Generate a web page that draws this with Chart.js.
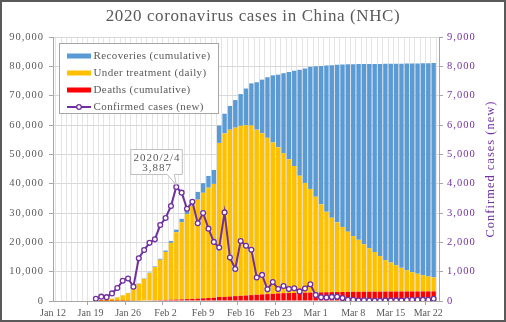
<!DOCTYPE html>
<html>
<head>
<meta charset="utf-8">
<script src="https://cdn.jsdelivr.net/npm/chart.js@4/dist/chart.umd.min.js"></script>
<style>
  html, body { margin: 0; padding: 0; background: #fff; }
  canvas { display: block; }
</style>
</head>
<body>
<canvas id="casesChart" width="506" height="322"></canvas>
<script>
// Daily figures, Jan 20 .. Mar 23 (the axis runs Jan 12 .. Mar 24)
const firstDay = new Date(2020, 0, 12);
const dayCount = 73;
const leadDays = 8;

const recoveries = [
    25, 28, 28, 34, 38, 49, 51, 60, 103, 124, 171, 243,
    328, 475, 632, 892, 1153, 1540, 2050, 2649, 3281, 3996, 4740, 5911, 6723, 8096, 9419,
    10844, 12552, 14376, 16155, 18264, 20659, 22888, 24734, 27323, 29745, 32495, 36117, 39002, 41625,
    44462, 47204, 49856, 52045, 53726, 55404, 57065, 58600, 59897, 61475, 62793, 64111, 65541,
    66911, 67749, 68679, 69601, 70420, 71150, 71740, 72244, 72703, 73159
];
const underTreatment = [
    260, 403, 526, 771, 1208, 1870, 2613, 4349, 5739, 7417, 9308, 11289,
    13748, 16369, 19381, 22942, 26302, 28985, 31774, 33738, 35982, 37626, 38800, 52526, 55748, 56873, 57416,
    57934, 58016, 57805, 56303, 54965, 53284, 51606, 49824, 47672, 45604, 43258, 39919, 37414, 35329,
    32652, 30004, 27433, 25352, 23784, 22177, 20533, 19016, 17721, 16145, 14831, 13526, 12094,
    10734, 9898, 8976, 8056, 7263, 6569, 6013, 5549, 5120, 4735
];
const deaths = [
    6, 9, 17, 25, 41, 56, 80, 106, 132, 170, 213, 259,
    304, 361, 425, 490, 563, 636, 722, 811, 908, 1016, 1113, 1367, 1380, 1523, 1665,
    1770, 1868, 2004, 2118, 2236, 2345, 2442, 2592, 2663, 2715, 2744, 2788, 2835, 2870,
    2912, 2943, 2981, 3012, 3042, 3070, 3097, 3119, 3136, 3158, 3169, 3176, 3189,
    3199, 3213, 3226, 3237, 3245, 3248, 3255, 3261, 3270, 3277
];
const newCases = [
    77, 149, 131, 259, 444, 688, 769, 490, 1459, 1737, 1982, 2102,
    2590, 2829, 3235, 3887, 3694, 3143, 3385, 2652, 3000, 2467, 2015, 1820, 3020, 1480, 1090,
    2048, 1886, 1749, 800, 889, 397, 648, 409, 508, 406, 433, 327, 427, 573,
    202, 125, 119, 139, 143, 99, 44, 40, 19, 24, 15, 8, 11,
    20, 16, 21, 13, 34, 39, 41, 46, 39, 78
];

const leftTicks = [0, 10000, 20000, 30000, 40000, 50000, 60000, 70000, 80000, 90000];
const rightTicks = [0, 1000, 2000, 3000, 4000, 5000, 6000, 7000, 8000, 9000];
const callout = { index: leadDays + 15, date: '2020/2/4' };

const MONTHS = ['Jan', 'Feb', 'Mar', 'Apr'];
const labels = [];
for (let i = 0; i < dayCount; i++) {
    const d = new Date(firstDay.getTime() + i * 86400000);
    labels.push(MONTHS[d.getMonth()] + ' ' + d.getDate());
}

function pad(values) {
    const out = new Array(leadDays).fill(null).concat(values);
    while (out.length < dayCount) out.push(null);
    return out;
}

const SERIF = '"Liberation Serif", "Times New Roman", serif';
const GREY_TEXT = '#595959';
const PURPLE = '#7030A0';
const COLORS = { rec: '#5B9BD5', treat: '#FFC000', dead: '#FF0000' };

function fmt(v) { return Number(v).toLocaleString('en-US'); }

// title, legend box, callout, right axis title, frame
const decorations = {
    id: 'decorations',
    beforeDraw(chart) {
        chart.ctx.letterSpacing = '1px';
    },
    afterDatasetsDraw(chart) {
        const ctx = chart.ctx;

        // callout on the Feb 4 peak
        const pt = chart.getDatasetMeta(3).data[callout.index];
        if (pt) {
            const x = pt.x, y = pt.y;
            const left = x - 45.5, right = x + 6, top = y - 37.5, bottom = y - 12.5;
            ctx.save();
            ctx.beginPath();
            ctx.moveTo(left, top);
            ctx.lineTo(right, top);
            ctx.lineTo(right, bottom);
            ctx.lineTo(x - 2, bottom);
            ctx.lineTo(x, y - 2);
            ctx.lineTo(x - 9, bottom);
            ctx.lineTo(left, bottom);
            ctx.closePath();
            ctx.fillStyle = '#fff';
            ctx.fill();
            ctx.strokeStyle = '#bfbfbf';
            ctx.lineWidth = 1;
            ctx.stroke();
            ctx.fillStyle = GREY_TEXT;
            ctx.font = '11px ' + SERIF;
            ctx.letterSpacing = '1px';
            ctx.textAlign = 'center';
            ctx.textBaseline = 'middle';
            const cx = (left + right) / 2 + 0.5;
            ctx.fillText(callout.date, cx, top + 8.5);
            ctx.fillText(fmt(newCases[callout.index - leadDays]), cx, top + 19);
            ctx.restore();
        }

        // legend box
        const items = [
            { text: 'Recoveries (cumulative)', color: COLORS.rec },
            { text: 'Under treatment (daily)', color: COLORS.treat },
            { text: 'Deaths (cumulative)', color: COLORS.dead },
            { text: 'Confirmed cases (new)', color: PURPLE, line: true }
        ];
        ctx.save();
        ctx.fillStyle = '#fff';
        ctx.fillRect(59.5, 43.5, 159, 70);
        ctx.strokeStyle = '#a6a6a6';
        ctx.lineWidth = 1;
        ctx.strokeRect(59.5, 43.5, 159, 70);
        ctx.font = '11px ' + SERIF;
        ctx.letterSpacing = '0.4px';
        ctx.textBaseline = 'middle';
        items.forEach((it, i) => {
            const ry = 56 + i * 17;
            if (it.line) {
                ctx.strokeStyle = it.color;
                ctx.lineWidth = 2;
                ctx.beginPath();
                ctx.moveTo(67, ry);
                ctx.lineTo(91, ry);
                ctx.stroke();
                ctx.beginPath();
                ctx.arc(79, ry, 2.3, 0, Math.PI * 2);
                ctx.fillStyle = '#fff';
                ctx.fill();
                ctx.lineWidth = 1.3;
                ctx.stroke();
            } else {
                ctx.fillStyle = it.color;
                ctx.fillRect(67, ry - 2.5, 24, 5);
            }
            ctx.fillStyle = GREY_TEXT;
            ctx.fillText(it.text, 93.5, ry + 0.5);
        });
        ctx.restore();

        // x tick labels are drawn after this point without spacing
        ctx.letterSpacing = '0px';
    },
    afterDraw(chart) {
        const ctx = chart.ctx;
        ctx.save();
        ctx.fillStyle = GREY_TEXT;
        ctx.font = '17px ' + SERIF;
        ctx.letterSpacing = '0.6px';
        ctx.textAlign = 'center';
        ctx.textBaseline = 'alphabetic';
        ctx.fillText('2020 coronavirus cases in China (NHC)', 253, 21);

        const area = chart.chartArea;
        ctx.translate(491, (area.top + area.bottom) / 2);
        ctx.rotate(-Math.PI / 2);
        ctx.fillStyle = PURPLE;
        ctx.font = '12.5px ' + SERIF;
        ctx.letterSpacing = '1px';
        ctx.textBaseline = 'middle';
        ctx.fillText('Confirmed cases (new)', 0, 0);
        ctx.restore();

        ctx.save();
        ctx.strokeStyle = '#5a5a5a';
        ctx.lineWidth = 2;
        ctx.strokeRect(1, 1, 504, 320);
        ctx.restore();
    }
};

const barCommon = {
    type: 'bar',
    yAxisID: 'y',
    stack: 'cases',
    order: 1,
    barPercentage: 0.82,
    categoryPercentage: 1,
    borderWidth: 0
};

new Chart(document.getElementById('casesChart'), {
    data: {
        labels: labels,
        datasets: [
            Object.assign({ label: 'Deaths (cumulative)', data: pad(deaths), backgroundColor: COLORS.dead }, barCommon),
            Object.assign({ label: 'Under treatment (daily)', data: pad(underTreatment), backgroundColor: COLORS.treat }, barCommon),
            Object.assign({ label: 'Recoveries (cumulative)', data: pad(recoveries), backgroundColor: COLORS.rec }, barCommon),
            {
                type: 'line',
                label: 'Confirmed cases (new)',
                data: pad(newCases),
                yAxisID: 'y1',
                order: 0,
                borderColor: PURPLE,
                borderWidth: 2,
                pointRadius: 2.4,
                pointBorderWidth: 1.3,
                pointBackgroundColor: '#fff',
                pointBorderColor: PURPLE,
                tension: 0
            }
        ]
    },
    options: {
        responsive: false,
        animation: false,
        layout: { padding: { top: 37, right: 0, bottom: 0, left: 0 } },
        plugins: {
            legend: { display: false },
            title: { display: false },
            tooltip: { enabled: false }
        },
        scales: {
            x: {
                type: 'category',
                stacked: true,
                offset: false,
                grid: {
                    color: '#e4e4e4',
                    tickLength: 4,
                    tickColor: c => (c.index % 7 === 0 ? '#a6a6a6' : 'rgba(0,0,0,0)')
                },
                border: { color: '#a6a6a6' },
                ticks: {
                    z: 1,
                    autoSkip: false,
                    maxRotation: 0,
                    padding: 2,
                    color: GREY_TEXT,
                    font: { family: SERIF, size: 10 },
                    callback: function (v, i) { return i % 7 === 0 ? labels[i] : ''; }
                },
                afterFit: s => { s.height = 21; }
            },
            y: {
                position: 'left',
                stacked: true,
                min: leftTicks[0],
                max: leftTicks[leftTicks.length - 1],
                afterBuildTicks: s => { s.ticks = leftTicks.map(v => ({ value: v })); },
                grid: { color: '#d9d9d9', tickLength: 4, tickColor: '#a6a6a6' },
                border: { color: '#a6a6a6' },
                ticks: {
                    color: GREY_TEXT,
                    padding: 5,
                    font: { family: SERIF, size: 10.5 },
                    callback: v => fmt(v)
                },
                afterFit: s => { s.width = 53; }
            },
            y1: {
                position: 'right',
                min: rightTicks[0],
                max: rightTicks[rightTicks.length - 1],
                afterBuildTicks: s => { s.ticks = rightTicks.map(v => ({ value: v })); },
                grid: { drawOnChartArea: false, tickLength: 4, tickColor: '#a6a6a6' },
                border: { color: '#a6a6a6' },
                ticks: {
                    color: PURPLE,
                    padding: 4,
                    font: { family: SERIF, size: 10.5 },
                    callback: v => fmt(v)
                },
                afterFit: s => { s.width = 67; }
            }
        }
    },
    plugins: [decorations]
});
</script>
</body>
</html>
